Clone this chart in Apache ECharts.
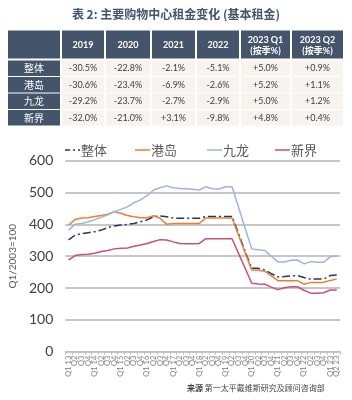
<!DOCTYPE html>
<html>
<head>
<meta charset="utf-8">
<script src="https://cdn.jsdelivr.net/npm/echarts@6/dist/echarts.min.js"></script>
<style>
  html, body { margin: 0; padding: 0; background: #fff; }
  #main { width: 352px; height: 400px; }
</style>
</head>
<body>
<div id="main"></div>
<script>
  // ---- 表格数据 ----
  var tableTitle = '表 2: 主要购物中心租金变化 (基本租金)'
  var tableHeads = ['', '2019', '2020', '2021', '2022', '2023 Q1\n(按季%)', '2023 Q2\n(按季%)']
  var tableRows = ['整体', '港岛', '九龙', '新界']
  var tableValues = [
    ['-30.5%', '-22.8%', '-2.1%', '-5.1%', '+5.0%', '+0.9%'],
    ['-30.6%', '-23.4%', '-6.9%', '-2.6%', '+5.2%', '+1.1%'],
    ['-29.2%', '-23.7%', '-2.7%', '-2.9%', '+5.0%', '+1.2%'],
    ['-32.0%', '-21.0%', '+3.1%', '-9.8%', '+4.8%', '+0.4%']
  ]

  // ---- 图表数据 ----
  var quarters = []
  for (var y = 13; y <= 23; y++) {
    for (var q = 1; q <= 4; q++) {
      if (y === 23 && q > 2) break
      quarters.push(q === 1 || (y === 23 && q === 2) ? 'Q' + q + ' ' + y : 'Q' + q)
    }
  }
  var overall = [351, 366, 371, 374, 377, 382, 390, 395, 398, 400, 403, 408, 414, 424, 426, 424, 420, 419, 419, 419, 419, 425, 425, 425, 425, 425, 370, 315, 262, 262, 257, 245, 235, 236, 238, 239, 233, 228, 228, 228, 239, 241]
  var hkIsland = [398, 415, 420, 421, 425, 428, 432, 440, 435, 428, 424, 421, 421, 427, 419, 400, 403, 403, 403, 403, 403, 420, 420, 420, 420, 420, 365, 311, 257, 256, 253, 238, 223, 223, 223, 223, 212, 217, 217, 218, 224, 228]
  var kowloon = [382, 400, 403, 408, 415, 422, 430, 440, 447, 455, 468, 477, 490, 508, 515, 521, 515, 513, 512, 510, 508, 518, 512, 511, 518, 518, 453, 388, 323, 320, 318, 300, 282, 282, 287, 288, 276, 283, 281, 281, 298, 301]
  var newTerr = [288, 302, 305, 306, 309, 315, 318, 323, 325, 326, 331, 335, 340, 346, 352, 351, 345, 340, 339, 339, 340, 355, 355, 355, 355, 355, 308, 262, 215, 213, 212, 203, 195, 201, 204, 204, 193, 184, 184, 185, 194, 194]
  var seriesNames = ['整体', '港岛', '九龙', '新界']
  var yTicks = [0, 100, 200, 300, 400, 500, 600]
  var sourceText = '第一太平戴维斯研究及顾问咨询部'

  var FONT = 'Lato, "Noto Sans CJK SC", sans-serif'
  var CJK = '"Noto Sans CJK SC", sans-serif'
  var colors = ['#1F3864', '#ED7D31', '#9DB4E0', '#C4507C']
  var dashes = [[8, 3, 2, 3], 'solid', 'solid', 'solid']

  // 表格 —— 用 graphic 画
  var colX = [[8, 60], [62, 104], [106, 150], [152, 195], [197, 239], [241, 290], [292, 343]]
  var headTop = 30.5, headH = 28
  var rowTop = [60.5, 77, 93.5, 110], rowH = 15.5
  var graphics = []
  graphics.push({
    type: 'text', left: 'center', top: 8,
    style: { text: tableTitle, fill: '#44546A', font: 'bold 12px ' + CJK }
  })
  tableHeads.forEach(function (h, c) {
    graphics.push({
      type: 'rect',
      shape: { x: colX[c][0], y: headTop, width: colX[c][1] - colX[c][0], height: headH },
      style: { fill: '#44546A' }
    })
    if (h) {
      graphics.push({
        type: 'text',
        x: (colX[c][0] + colX[c][1]) / 2, y: headTop + headH / 2 + 1,
        style: { text: h, fill: '#fff', font: 'bold 9px ' + FONT, align: 'center', verticalAlign: 'middle', lineHeight: 11 }
      })
    }
  })
  tableRows.forEach(function (name, r) {
    graphics.push({
      type: 'rect',
      shape: { x: colX[0][0], y: rowTop[r], width: colX[0][1] - colX[0][0], height: rowH },
      style: { fill: '#44546A' }
    })
    graphics.push({
      type: 'text',
      x: (colX[0][0] + colX[0][1]) / 2, y: rowTop[r] + rowH / 2,
      style: { text: name, fill: '#fff', font: '10px ' + CJK, align: 'center', verticalAlign: 'middle' }
    })
    tableValues[r].forEach(function (v, c) {
      var cx = colX[c + 1]
      graphics.push({
        type: 'rect',
        shape: { x: cx[0], y: rowTop[r], width: cx[1] - cx[0], height: rowH },
        style: { fill: '#F7F4F0' }
      })
      graphics.push({
        type: 'text',
        x: (cx[0] + cx[1]) / 2, y: rowTop[r] + rowH / 2,
        style: { text: v, fill: '#404040', font: '9px ' + FONT, align: 'center', verticalAlign: 'middle' }
      })
    })
  })

  // 图例 —— 手工画，保留虚点线样式
  var legendX = [65, 135, 207, 275]
  seriesNames.forEach(function (name, i) {
    graphics.push({
      type: 'line',
      shape: { x1: legendX[i], y1: 150, x2: legendX[i] + 15, y2: 150 },
      style: { stroke: colors[i], lineWidth: 1.5, lineDash: dashes[i] === 'solid' ? null : [5, 3, 2, 3] }
    })
    graphics.push({
      type: 'text', x: legendX[i] + 16, y: 150,
      style: { text: name, fill: '#595959', font: '13px ' + CJK, verticalAlign: 'middle' }
    })
  })

  graphics.push({
    type: 'text', x: 187, y: 388,
    style: {
      text: '{b|来源} ' + sourceText,
      fill: '#404040', font: '8px ' + CJK, verticalAlign: 'middle',
      rich: { b: { fontWeight: 'bold', fontSize: 8, fontFamily: CJK, fill: '#404040' } }
    }
  })

  function lineSeries (i, data) {
    return {
      name: seriesNames[i], type: 'line', data: data,
      symbol: 'none', showSymbol: false,
      lineStyle: { color: colors[i], width: 1.5, type: dashes[i] },
      itemStyle: { color: colors[i] },
      animation: false
    }
  }

  var chart = echarts.init(document.getElementById('main'))
  chart.setOption({
    animation: false,
    graphic: graphics,
    grid: { left: 65, right: 12, top: 160.7, bottom: 48.3 },
    xAxis: {
      type: 'category',
      data: quarters,
      boundaryGap: true,
      axisLine: { lineStyle: { color: '#BFBFBF' } },
      axisTick: { show: true, interval: 0, length: 3, lineStyle: { color: '#BFBFBF' } },
      axisLabel: { interval: 0, rotate: 90, fontSize: 7.5, color: '#7F7F7F', margin: 4, fontFamily: FONT }
    },
    yAxis: {
      type: 'value',
      min: yTicks[0], max: yTicks[yTicks.length - 1], interval: 100,
      name: 'Q1/2003=100',
      nameLocation: 'middle', nameGap: 45,
      nameTextStyle: { color: '#595959', fontSize: 10, fontFamily: FONT },
      axisLine: { show: false },
      axisTick: { show: false },
      axisLabel: { color: '#404040', fontSize: 14, margin: 12, fontFamily: FONT },
      splitLine: { lineStyle: { color: '#B4B4B4', width: 1.5 } }
    },
    series: [
      lineSeries(0, overall),
      lineSeries(1, hkIsland),
      lineSeries(2, kowloon),
      lineSeries(3, newTerr)
    ]
  })
</script>
</body>
</html>
